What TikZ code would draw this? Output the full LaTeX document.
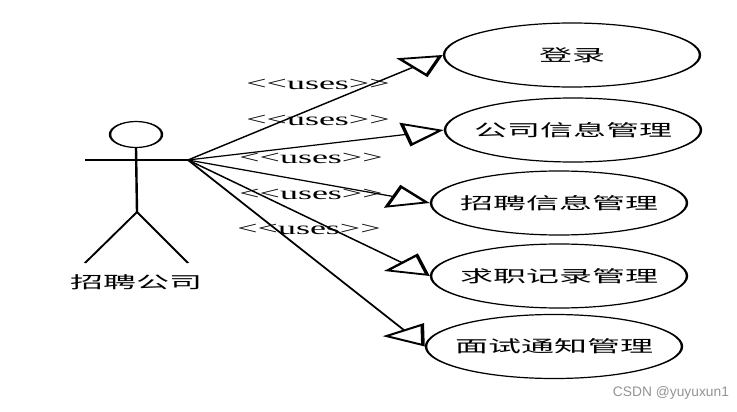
\documentclass[tikz,border=0pt]{standalone}
\usepackage{fontspec}
\setmainfont{Liberation Serif}
\newfontfamily\cjk{Noto Sans CJK SC}
\newfontfamily\wmfont{Liberation Sans}
\usetikzlibrary{arrows.meta,shapes.geometric}
\newcommand{\usestext}{\mbox{<}\mbox{<}uses\mbox{>}\mbox{>}}
\newcommand{\cjkcentered}[1]{\makebox[0pt][c]{#1}}
\begin{document}
\begin{tikzpicture}[x=1pt,y=-1pt,
  usecase/.style={draw, ellipse, line width=1.2pt, minimum width=128pt, minimum height=64pt, inner sep=0pt, font=\cjk\fontsize{16.5}{18}\selectfont},
  useslabel/.style={font=\fontsize{18}{20}\selectfont, anchor=base, inner sep=0pt},
  stick/.style={line width=1.2pt},
  link/.style={line width=1.2pt, -{Triangle[open, length=20pt, width=24pt, line width=1.8pt]}},
  actorlabel/.style={font=\cjk\fontsize{16.5}{18}\selectfont, inner sep=0pt},
  watermark/.style={font=\wmfont\fontsize{13.8}{15}\selectfont, text=black!42, inner sep=0pt}
]
\useasboundingbox[fill=white] (0,0) rectangle (737,412);
\begin{scope}[transform canvas={xscale=2}]
  % actor
  \node[draw, circle, line width=1.2pt, minimum size=26pt, inner sep=0pt] (head) at (68,134.5) {};
  \coordinate (lefthand) at (42.5,160);
  \coordinate (hand) at (94,160);
  \coordinate (hip) at (68.5,212);
  \coordinate (lfoot) at (42.5,263);
  \coordinate (rfoot) at (94,263);
  \draw[stick] (lefthand) -- (hand);
  \draw[stick] (head.south) -- (hip);
  \draw[stick] (lfoot) -- (hip) -- (rfoot);
  \node[actorlabel] (actor) at (68,282.5) {招聘公司};
  % use cases
  \node[usecase] (u1) at (286,55) {\cjkcentered{登录}};
  \node[usecase] (u2) at (286.5,130) {\cjkcentered{公司信息管理}};
  \node[usecase] (u3) at (279.5,203) {\cjkcentered{招聘信息管理}};
  \node[usecase] (u4) at (279.5,276) {\cjkcentered{求职记录管理}};
  \node[usecase] (u5) at (277,346.5) {\cjkcentered{面试通知管理}};
  % connectors
  \draw[link] (hand) -- (u1.west);
  \draw[link] (hand) -- (u2.west);
  \draw[link] (hand) -- (u3.west);
  \draw[link] (hand) -- (u4.west);
  \draw[link] (hand) -- (u5.west);
  % labels
  \node[useslabel] (l1) at (159,89.5) {\usestext};
  \node[useslabel] (l2) at (159,125.5) {\usestext};
  \node[useslabel] (l3) at (155.5,163) {\usestext};
  \node[useslabel] (l4) at (155.5,199) {\usestext};
  \node[useslabel] (l5) at (154.5,234.5) {\usestext};
\end{scope}
\node[watermark] (wm) at (671,393) {CSDN @yuyuxun1};
\end{tikzpicture}
\end{document}
